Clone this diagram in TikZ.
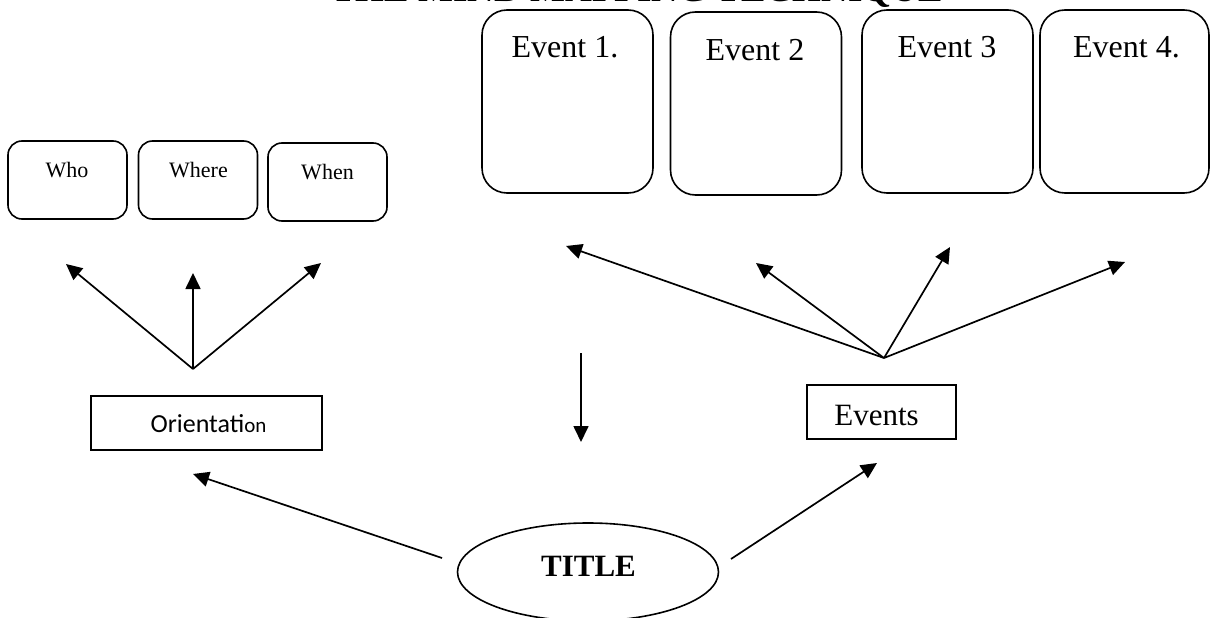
\documentclass[tikz,border=0pt]{standalone}
\usepackage{fontspec}
\setmainfont{Liberation Serif}
\newfontfamily\calibri{Carlito}
\usetikzlibrary{arrows.meta,shapes.geometric}

\begin{document}
\begin{tikzpicture}[x=1pt,y=-1pt,
  evbox/.style={draw, line width=1.6pt, rounded corners=25pt,
    minimum width=171pt, minimum height=183pt, inner sep=0pt},
  qbox/.style={draw, line width=1.6pt, rounded corners=14pt,
    minimum width=119pt, minimum height=78pt, inner sep=0pt},
  plainbox/.style={draw, line width=1.6pt, minimum height=54pt, inner sep=0pt},
  evlabel/.style={anchor=base, inner sep=0pt, font=\fontsize{32}{38}\selectfont},
  qlabel/.style={anchor=base, inner sep=0pt, font=\fontsize{22}{26}\selectfont},
  arr/.style={line width=1.7pt, -{Triangle[length=16pt,width=15pt]}},
]
\useasboundingbox (0,0) rectangle (1211,618);

% heading
\node[anchor=base, inner sep=0pt, font=\bfseries\fontsize{37}{44}\selectfont]
  (heading) at (637,1.5) {THE MIND MAPPING TECHNIQUE};

% event boxes
\node[evbox] (e1) at (567.5,101.5) {};
\node[evbox] (e2) at (756,103.5) {};
\node[evbox] (e3) at (947.5,101.5) {};
\node[evbox, minimum width=169pt] (e4) at (1124.5,101.5) {};
\node[evlabel] (t1) at (565,58) {Event 1.};
\node[evlabel] (t2) at (755,61) {Event 2};
\node[evlabel] (t3) at (947,58) {Event 3};
\node[evlabel] (t4) at (1126.5,58) {Event 4.};

% orientation boxes
\node[qbox] (who) at (67.5,180) {};
\node[qbox] (where) at (198,180) {};
\node[qbox] (when) at (327.5,182) {};
\node[qlabel] (whot) at (67,177) {Who};
\node[qlabel] (wheret) at (198.5,177) {Where};
\node[qlabel] (whent) at (327.5,179) {When};

% category boxes
\node[plainbox, minimum width=231pt] (orient) at (206.5,423) {};
\node[anchor=base, inner sep=0pt] (orientt) at (208.5,432)
  {\calibri\fontsize{26}{30}\selectfont Orientati{\fontsize{21}{25}\selectfont on}};
\node[plainbox, minimum width=149pt] (events) at (881.5,412) {};
\node[anchor=base, inner sep=0pt, font=\fontsize{31}{37}\selectfont]
  (eventst) at (876.5,425) {Events};

% central title
\node[draw, ellipse, line width=1.6pt, minimum width=261pt, minimum height=98pt,
  inner sep=0pt] (title) at (588,572) {};
\node[anchor=base, inner sep=0pt, font=\bfseries\fontsize{31}{37}\selectfont]
  (titlet) at (588.5,576) {TITLE};

% branch points and arrow ends
\coordinate (of) at (193,369);
\coordinate (oa) at (66,264);
\coordinate (ob) at (193,273);
\coordinate (oc) at (321,263);
\coordinate (ef) at (884,358);
\coordinate (ea) at (566,246);
\coordinate (eb) at (756,263);
\coordinate (ec) at (950,247);
\coordinate (ed) at (1125,262);
\coordinate (ds) at (581,353);
\coordinate (de) at (581,442);
\coordinate (tl) at (442,558);
\coordinate (tlt) at (193,474);
\coordinate (tr) at (731,559);
\coordinate (trt) at (877,463);

% arrows
\draw[arr] (of) -- (oa);
\draw[arr] (of) -- (ob);
\draw[arr] (of) -- (oc);
\draw[arr] (ef) -- (ea);
\draw[arr] (ef) -- (eb);
\draw[arr] (ef) -- (ec);
\draw[arr] (ef) -- (ed);
\draw[arr] (ds) -- (de);
\draw[arr] (tl) -- (tlt);
\draw[arr] (tr) -- (trt);
\end{tikzpicture}
\end{document}
